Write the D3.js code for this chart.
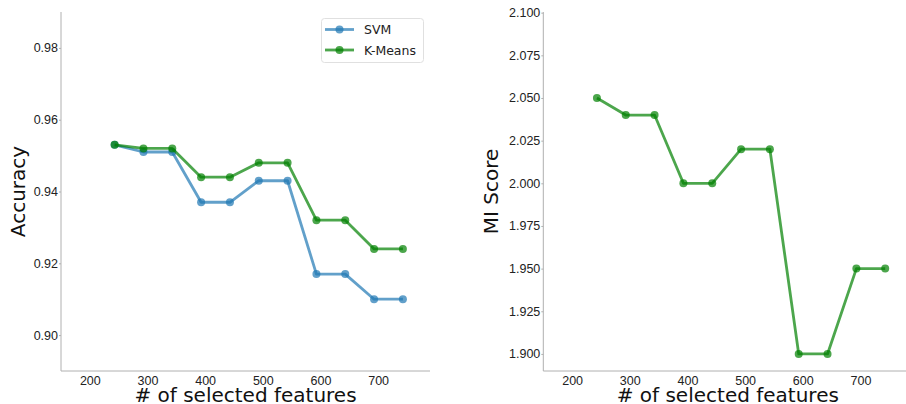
<!DOCTYPE html>
<html>
<head>
<meta charset="utf-8">
<script src="https://cdn.jsdelivr.net/npm/d3@7"></script>
<style>
  body { margin: 0; background: #fff; }
  svg { display: block; font-family: "DejaVu Sans", sans-serif; }
  .axis path, .axis line { stroke: #b0b0b0; }
  .axis text { fill: #222; font-size: 12.5px; }
</style>
</head>
<body>
<script>
// data
var features = [243, 293, 343, 393, 443, 493, 543, 593, 643, 693, 743];
var svmAcc = [0.953, 0.951, 0.951, 0.937, 0.937, 0.943, 0.943, 0.917, 0.917, 0.910, 0.910];
var kmeansAcc = [0.953, 0.952, 0.952, 0.944, 0.944, 0.948, 0.948, 0.932, 0.932, 0.924, 0.924];
var miScore = [2.05, 2.04, 2.04, 2.00, 2.00, 2.02, 2.02, 1.90, 1.90, 1.95, 1.95];
var xTicks = [200, 300, 400, 500, 600, 700];
var accTicks = [0.90, 0.92, 0.94, 0.96, 0.98];
var miTicks = [1.900, 1.925, 1.950, 1.975, 2.000, 2.025, 2.050, 2.075, 2.100];

var W = 906, H = 404;
var svg = d3.select("body").append("svg").attr("width", W).attr("height", H);

var plotTop = 12, plotBottom = 371, pw = 369;

function panel(left, yDomain, yTicks, yFmt, ylabel, ylabelX, series) {
  var x = d3.scaleLinear().domain([150, 790]).range([left, left + pw]);
  var y = d3.scaleLinear().domain(yDomain).range([plotBottom, plotTop]);
  var g = svg.append("g");

  g.append("g").attr("class", "axis")
    .attr("transform", "translate(0," + plotBottom + ")")
    .call(d3.axisBottom(x).tickValues(xTicks).tickSize(0).tickPadding(5).tickFormat(d3.format("d")))
    .call(function (a) { a.select(".domain").attr("d", "M" + left + ",0H" + (left + pw)); });

  g.append("g").attr("class", "axis")
    .attr("transform", "translate(" + left + ",0)")
    .call(d3.axisLeft(y).tickValues(yTicks).tickSize(2).tickPadding(1).tickFormat(d3.format(yFmt)))
    .call(function (a) { a.select(".domain").attr("d", "M0," + plotTop + "V" + plotBottom); });

  g.append("text")
    .attr("x", left + pw / 2).attr("y", 402)
    .attr("text-anchor", "middle").attr("font-size", 20).attr("fill", "#111")
    .text("# of selected features");

  g.append("text")
    .attr("transform", "translate(" + ylabelX + "," + ((plotTop + plotBottom) / 2) + ") rotate(-90)")
    .attr("text-anchor", "middle").attr("font-size", 20).attr("fill", "#111")
    .text(ylabel);

  var line = d3.line().x(function (d) { return x(d[0]); }).y(function (d) { return y(d[1]); });

  series.forEach(function (s) {
    var pts = features.map(function (f, i) { return [f, s.values[i]]; });
    g.append("path").datum(pts)
      .attr("d", line).attr("fill", "none")
      .attr("stroke", s.color).attr("stroke-opacity", 0.7)
      .attr("stroke-width", 2.8).attr("stroke-linejoin", "round");
    g.selectAll(null).data(pts).enter().append("circle")
      .attr("cx", function (d) { return x(d[0]); })
      .attr("cy", function (d) { return y(d[1]); })
      .attr("r", 4).attr("fill", s.color).attr("fill-opacity", 0.7);
  });
  return g;
}

var blue = "#1f77b4", green = "#008000";

panel(61, [0.89, 0.99], accTicks, ".2f", "Accuracy", 25, [
  { name: "SVM", values: svmAcc, color: blue },
  { name: "K-Means", values: kmeansAcc, color: green }
]);

panel(543.3, [1.89, 2.1004], miTicks, ".3f", "MI Score", 498, [
  { name: "K-Means", values: miScore, color: green }
]);

// legend
var legend = svg.append("g");
legend.append("rect")
  .attr("x", 321.5).attr("y", 18.5).attr("width", 102).attr("height", 44)
  .attr("rx", 3).attr("fill", "#fff").attr("stroke", "#e0e0e0");
[{ name: "SVM", color: blue }, { name: "K-Means", color: green }].forEach(function (s, i) {
  var yy = 29.5 + i * 20.5;
  legend.append("line").attr("x1", 325).attr("x2", 354).attr("y1", yy).attr("y2", yy)
    .attr("stroke", s.color).attr("stroke-opacity", 0.7).attr("stroke-width", 2.8);
  legend.append("circle").attr("cx", 339.5).attr("cy", yy).attr("r", 4)
    .attr("fill", s.color).attr("fill-opacity", 0.7);
  legend.append("text").attr("x", 364).attr("y", yy + 4.5)
    .attr("font-size", 12.5).attr("fill", "#222").text(s.name);
});
</script>
</body>
</html>
